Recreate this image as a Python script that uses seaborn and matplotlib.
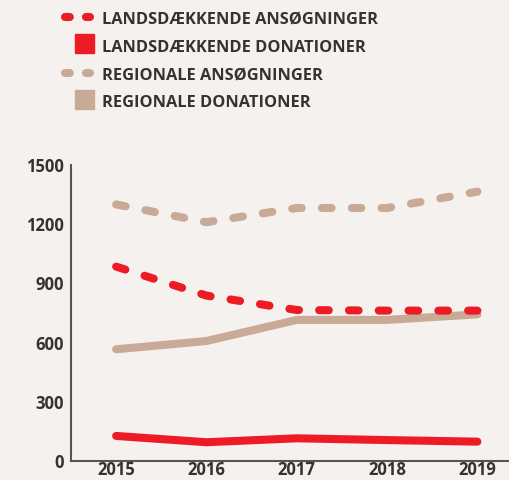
import pandas as pd
import matplotlib
matplotlib.use("Agg")
import matplotlib.pyplot as plt
import seaborn as sns
from matplotlib.lines import Line2D
from matplotlib.patches import Patch, Rectangle
from matplotlib.legend_handler import HandlerPatch

# Data
years = ["2015", "2016", "2017", "2018", "2019"]
lands_ans = [985, 838, 765, 762, 762]
lands_don = [127, 95, 115, 106, 98]
reg_ans = [1300, 1210, 1282, 1282, 1365]
reg_don = [566, 608, 715, 715, 743]

labels = ["LANDSDÆKKENDE ANSØGNINGER", "LANDSDÆKKENDE DONATIONER",
          "REGIONALE ANSØGNINGER", "REGIONALE DONATIONER"]

red = "#ED1C24"
tan = "#C8AA96"
bg = "#F5F1EE"
txt = "#333333"

sns.set_style("white")
plt.rcParams["font.family"] = ["Open Sans", "DejaVu Sans"]
plt.rcParams["font.weight"] = "bold"

df = pd.DataFrame({"year": years * 4,
                   "value": lands_ans + lands_don + reg_ans + reg_don,
                   "serie": sum([[l] * len(years) for l in labels], [])})

fig = plt.figure(figsize=(5.09, 4.8), dpi=100, facecolor=bg)
ax = fig.add_axes([0.1395, 0.0396, 0.8605, 0.6167], facecolor=bg)

styles = {labels[0]: (red, True), labels[1]: (red, False),
          labels[2]: (tan, True), labels[3]: (tan, False)}
# tan first so red sits on top
for lab in [labels[2], labels[3], labels[0], labels[1]]:
    col, dashed = styles[lab]
    sub = df[df["serie"] == lab]
    sns.lineplot(data=sub, x="year", y="value", ax=ax, color=col, lw=5.8,
                 sort=False, legend=False)
    line = ax.lines[-1]
    if dashed:
        line.set_dashes([1.2, 2.5])
        line.set_dash_capstyle("round")
    line.set_solid_capstyle("round")

ax.set_xlim(-0.5, 4.35)
ax.set_ylim(0, 1500)
ax.set_yticks([0, 300, 600, 900, 1200, 1500])
ax.set_xlabel("")
ax.set_ylabel("")
ax.set_xticks([0.5, 1.5, 2.5, 3.5])
ax.set_xticklabels([])
ax.tick_params(axis="x", direction="in", length=6, width=1.5, color="#555555")
for i, y in enumerate(years):
    ax.text(i, -0.062, y, transform=ax.get_xaxis_transform(), ha="center",
            va="bottom", fontsize=12, fontweight="bold", color=txt)
ax.tick_params(axis="y", direction="in", length=8, width=1.5, color="#555555",
               labelsize=12, labelcolor=txt, pad=5)
for t in ax.get_yticklabels():
    t.set_fontweight("bold")

sns.despine(ax=ax)
for s in ["left", "bottom"]:
    ax.spines[s].set_color("#555555")
    ax.spines[s].set_linewidth(1.5)


def square(legend, orig_handle, xdescent, ydescent, width, height, fontsize):
    side = 13.7
    return Rectangle((width + 2.9 - side, height / 2 - side / 2), side, side)


handles = [Line2D([], [], color=red, lw=5.8, dashes=[0.6, 2.0], dash_capstyle="round"),
           Patch(color=red),
           Line2D([], [], color=tan, lw=5.8, dashes=[0.6, 2.0], dash_capstyle="round"),
           Patch(color=tan)]
leg = fig.legend(handles, labels, loc="upper left", bbox_to_anchor=(0.1277, 0.979),
                 frameon=False, borderpad=0, borderaxespad=0,
                 handlelength=1.5, handleheight=1.15, handletextpad=0.78,
                 labelspacing=0.62, prop={"weight": "bold", "size": 11.8},
                 handler_map={Patch: HandlerPatch(patch_func=square)})
for t in leg.get_texts():
    t.set_color(txt)

fig.savefig("out.png", dpi=100, facecolor=bg)
